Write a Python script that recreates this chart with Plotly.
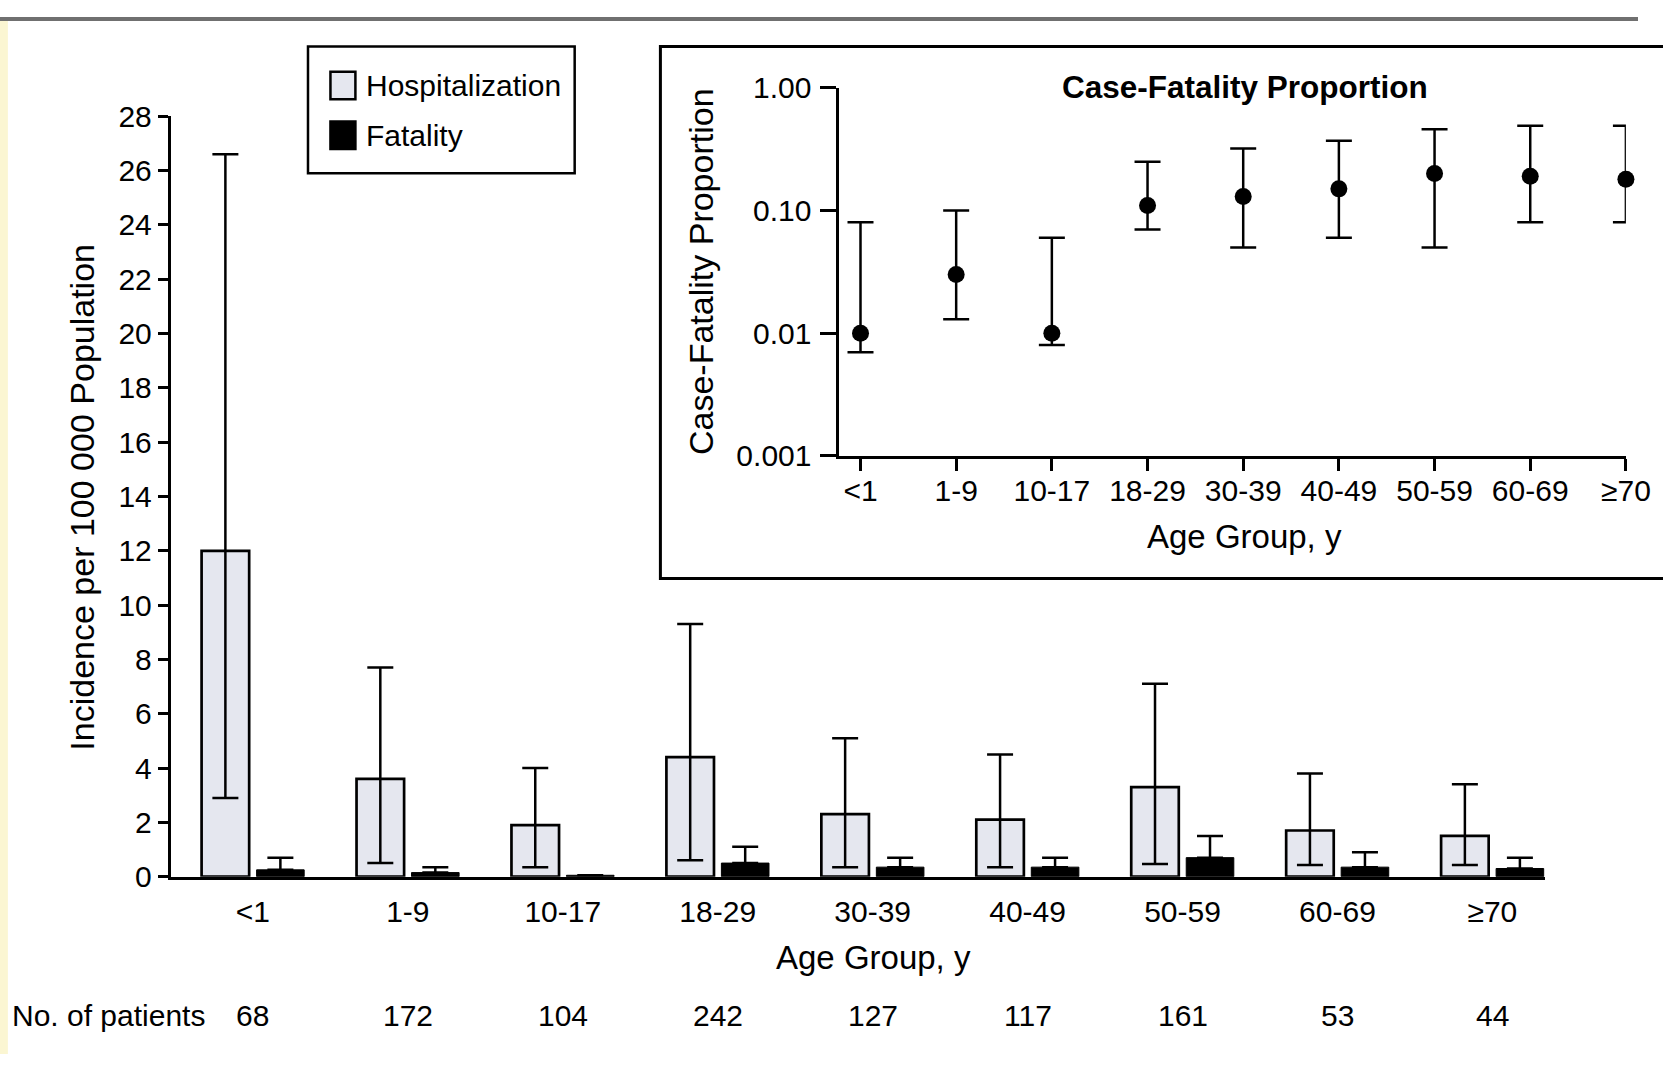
import plotly.graph_objects as go

W, H = 1663, 1071

# ---------------- data ----------------
age_groups = ["<1", "1-9", "10-17", "18-29", "30-39", "40-49", "50-59", "60-69", "≥70"]
n_patients = [68, 172, 104, 242, 127, 117, 161, 53, 44]

hosp = [12.0, 3.6, 1.9, 4.4, 2.3, 2.1, 3.3, 1.7, 1.5]
hosp_lo = [2.9, 0.5, 0.35, 0.6, 0.35, 0.35, 0.47, 0.43, 0.43]
hosp_hi = [26.6, 7.7, 4.0, 9.3, 5.1, 4.5, 7.1, 3.8, 3.4]

fat = [0.25, 0.15, 0.05, 0.5, 0.35, 0.35, 0.7, 0.35, 0.3]
fat_hi = [0.7, 0.35, None, 1.1, 0.7, 0.7, 1.5, 0.9, 0.7]

cfp = [0.010, 0.030, 0.010, 0.11, 0.13, 0.15, 0.20, 0.19, 0.18]
cfp_lo = [0.007, 0.013, 0.008, 0.07, 0.05, 0.06, 0.05, 0.08, 0.08]
cfp_hi = [0.08, 0.10, 0.06, 0.25, 0.32, 0.37, 0.46, 0.49, 0.49]

cfp_ticks = [0.001, 0.01, 0.1, 1.0]
cfp_ticktext = ["0.001", "0.01", "0.10", "1.00"]
inc_ticks = list(range(0, 29, 2))

legend_names = ["Hospitalization", "Fatality"]
HOSP_COLOR = "#e5e7ef"
FAT_COLOR = "black"

# ---------------- placement helpers (page pixels -> paper) ----------------
AX, BX = 0.9869, -3.1
AY, BY = 0.9709, 15.0

def px(t):
    return ((t - BX) / AX) / W

def py(t):
    return 1 - ((t - BY) / AY) / H

FONT = "Liberation Sans, Arial, sans-serif"
FS = 30

fig = go.Figure()

fig.add_trace(go.Bar(
    x=age_groups, y=hosp, name=legend_names[0], showlegend=False,
    marker=dict(color=HOSP_COLOR, line=dict(color="black", width=2.7)),
    error_y=dict(type="data", symmetric=False,
                 array=[h - v for h, v in zip(hosp_hi, hosp)],
                 arrayminus=[v - l for v, l in zip(hosp, hosp_lo)],
                 color="black", thickness=2.5, width=13),
    xaxis="x", yaxis="y",
))
fig.add_trace(go.Bar(
    x=age_groups, y=fat, name=legend_names[1], showlegend=False,
    marker=dict(color=FAT_COLOR, line=dict(color="black", width=1)),
    error_y=dict(type="data", symmetric=False,
                 array=[(h - v) if h is not None else None for h, v in zip(fat_hi, fat)],
                 arrayminus=[0] * len(fat),
                 color="black", thickness=2.5, width=13),
    xaxis="x", yaxis="y",
))
fig.add_trace(go.Scatter(
    x=age_groups, y=cfp, mode="markers", showlegend=False, cliponaxis=False,
    marker=dict(color="black", size=17),
    error_y=dict(type="data", symmetric=False,
                 array=[h - v for h, v in zip(cfp_hi, cfp)],
                 arrayminus=[v - l for v, l in zip(cfp, cfp_lo)],
                 color="black", thickness=2.5, width=13),
    xaxis="x2", yaxis="y2",
))

axis_common = dict(showgrid=False, zeroline=False, showline=True, linecolor="black",
                   tickfont=dict(family=FONT, size=FS, color="black"))

fig.update_layout(
    width=W, height=H, autosize=False,
    margin=dict(l=0, r=0, t=0, b=0),
    paper_bgcolor="white", plot_bgcolor="rgba(0,0,0,0)",
    font=dict(family=FONT, size=FS, color="black"),
    barmode="group", bargap=0.29, bargroupgap=0.135,
    showlegend=False,
    xaxis=dict(axis_common, domain=[px(168), px(1545)], range=[-0.53, 8.34],
               type="category", linewidth=3, ticks="", ticklabelstandoff=6,
               anchor="y"),
    yaxis=dict(axis_common, domain=[py(877), py(114.6)], range=[0, 28],
               tickvals=inc_ticks, linewidth=3, ticks="outside", ticklen=10,
               tickwidth=2.5, tickcolor="black", anchor="x"),
    xaxis2=dict(axis_common, domain=[px(838), px(1626)], range=[-0.22, 8.0],
                type="category", linewidth=3, ticks="outside", ticklen=12,
                tickwidth=2.5, tickcolor="black", ticklabelstandoff=-6, anchor="y2"),
    yaxis2=dict(axis_common, domain=[py(455), py(86)], type="log", range=[-3, 0],
                tickvals=cfp_ticks, ticktext=cfp_ticktext, linewidth=3,
                ticks="outside", ticklen=16, tickwidth=2.5, tickcolor="black",
                ticklabelstandoff=3, anchor="x2"),
)

shapes = [
    dict(type="rect", xref="paper", yref="paper", x0=0, x1=8 / W,
         y0=0, y1=1, fillcolor="#fbf6d2", line=dict(width=0), layer="below"),
    dict(type="line", xref="paper", yref="paper", x0=0, x1=1, y0=1 - 2 / H, y1=1 - 2 / H,
         line=dict(color="#707070", width=4)),
    dict(type="rect", xref="paper", yref="paper", x0=px(658.6), x1=1.02,
         y0=py(578), y1=py(44.5), line=dict(color="black", width=3)),
    # legend box and swatches
    dict(type="rect", xref="paper", yref="paper", x0=px(305.5), x1=px(572.7),
         y0=py(171.8), y1=py(44.5), line=dict(color="black", width=2.5), fillcolor="white"),
    dict(type="rect", xref="paper", yref="paper", x0=px(328), x1=px(353),
         y0=py(97.6), y1=py(70), line=dict(color="black", width=2.5), fillcolor=HOSP_COLOR),
    dict(type="rect", xref="paper", yref="paper", x0=px(328), x1=px(353),
         y0=py(147.4), y1=py(119.8), line=dict(color="black", width=2.5), fillcolor=FAT_COLOR),
]
fig.update_layout(shapes=shapes)

ann = []
ann.append(dict(text=legend_names[0], xref="paper", yref="paper", x=px(362), y=py(84),
                showarrow=False, xanchor="left", yanchor="middle"))
ann.append(dict(text=legend_names[1], xref="paper", yref="paper", x=px(362), y=py(134),
                showarrow=False, xanchor="left", yanchor="middle"))
ann.append(dict(text="Incidence per 100 000 Population", xref="paper", yref="paper",
                x=px(79), y=py(496), textangle=-90, showarrow=False,
                font=dict(size=34), xanchor="center", yanchor="middle"))
ann.append(dict(text="Age Group, y", xref="paper", yref="paper",
                x=px(872), y=py(958), showarrow=False, xanchor="center", yanchor="middle",
                font=dict(size=33)))
ann.append(dict(text="No. of patients", xref="paper", yref="paper",
                x=px(7), y=py(1016), showarrow=False, xanchor="left", yanchor="middle"))
for g, n in zip(age_groups, n_patients):
    ann.append(dict(text=str(n), xref="x", yref="paper", x=g, y=py(1016),
                    showarrow=False, xanchor="center", yanchor="middle"))
ann.append(dict(text="<b>Case-Fatality Proportion</b>", xref="paper", yref="paper",
                x=px(1244), y=py(85), showarrow=False, xanchor="center", yanchor="middle",
                font=dict(size=31.5)))
ann.append(dict(text="Age Group, y", xref="paper", yref="paper",
                x=px(1244), y=py(536), showarrow=False, xanchor="center", yanchor="middle",
                font=dict(size=33)))
ann.append(dict(text="Case-Fatality Proportion", xref="paper", yref="paper",
                x=px(700), y=py(270), textangle=-90, showarrow=False,
                font=dict(size=34), xanchor="center", yanchor="middle"))
fig.update_layout(annotations=ann)

fig.write_html(
    "out.html",
    config={"displayModeBar": False, "responsive": False},
    post_script="document.documentElement.style.margin='0';document.body.style.margin='0';"
                "document.body.style.overflow='hidden';",
)
